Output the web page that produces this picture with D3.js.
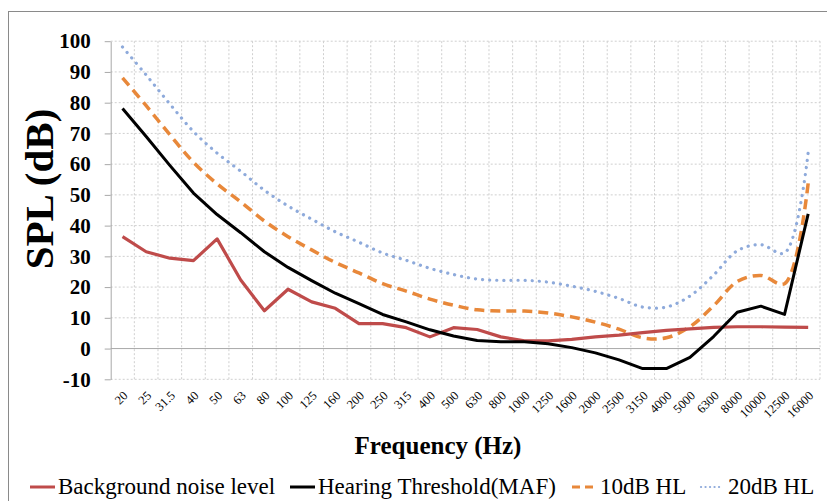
<!DOCTYPE html>
<html>
<head>
<meta charset="utf-8">
<script src="https://cdn.jsdelivr.net/npm/d3@7"></script>
<style>
  html, body { margin: 0; padding: 0; background: #fff; }
  svg { display: block; }
</style>
</head>
<body>
<svg id="chart" width="827" height="501"></svg>
<script>
// Third-octave band centre frequencies (Hz)
const frequencies = ["20","25","31.5","40","50","63","80","100","125","160","200","250","315","400","500","630","800","1000","1250","1600","2000","2500","3150","4000","5000","6300","8000","10000","12500","16000"];

// Sound pressure levels (dB SPL) per band
const backgroundNoise = [36.4,31.5,29.4,28.6,35.7,22.3,12.3,19.3,15.2,13.1,8.1,8.1,6.8,3.8,6.8,6.2,3.8,2.5,2.5,3.0,3.8,4.4,5.2,5.9,6.4,6.9,7.1,7.1,7.0,6.9];
const hearingThreshold = [78.1,69.0,59.6,50.6,43.6,37.7,31.5,26.4,22.1,18.0,14.6,11.1,8.7,6.1,4.1,2.6,2.2,2.2,1.6,0.3,-1.4,-3.7,-6.5,-6.5,-2.9,3.9,11.8,13.8,11.1,43.8];
const hl10 = [88.1,79.0,69.6,60.6,53.6,47.7,41.5,36.4,32.1,28.0,24.6,21.1,18.7,16.1,14.1,12.6,12.2,12.2,11.6,10.3,8.6,6.3,3.5,3.5,7.1,13.9,21.8,23.8,21.1,53.8];
const hl20 = [98.1,89.0,79.6,70.6,63.6,57.7,51.5,46.4,42.1,38.0,34.6,31.1,28.7,26.1,24.1,22.6,22.2,22.2,21.6,20.3,18.6,16.3,13.5,13.5,17.1,23.9,31.8,33.8,31.1,63.8];

const yTicks = [-10,0,10,20,30,40,50,60,70,80,90,100];

const seriesNames = ["Background noise level", "Hearing Threshold(MAF)", "10dB HL", "20dB HL"];

const serif = "'Liberation Serif','Times New Roman',serif";

const svg = d3.select("#chart");

// outer chart frame
svg.append("rect")
  .attr("x", 8.5).attr("y", 11.5)
  .attr("width", 900).attr("height", 600)
  .attr("fill", "#fff").attr("stroke", "#8a8a8a").attr("stroke-width", 1);

const plot = { left: 110.7, right: 820, top: 41.2, bottom: 379.3 };

const x = d3.scaleBand().domain(frequencies).range([plot.left, plot.right]).padding(0);
const y = d3.scaleLinear().domain([-10, 100]).range([plot.bottom, plot.top]);
const cx = f => x(f) + x.bandwidth() / 2;

// vertical gridlines at band boundaries
const bounds = frequencies.map(f => x(f)).concat([plot.right]);
svg.append("g").selectAll("line").data(bounds.slice(1)).join("line")
  .attr("x1", d => d).attr("x2", d => d)
  .attr("y1", plot.top).attr("y2", plot.bottom)
  .attr("stroke", "#cfcfcf").attr("stroke-width", 1).attr("stroke-dasharray", "2,2");

// horizontal gridlines
svg.append("g").selectAll("line").data(yTicks.filter(v => v !== 0)).join("line")
  .attr("x1", plot.left).attr("x2", plot.right)
  .attr("y1", d => y(d)).attr("y2", d => y(d))
  .attr("stroke", "#cfcfcf").attr("stroke-width", 1).attr("stroke-dasharray", "2,2");

// category axis line sits at 0 dB
svg.append("line")
  .attr("x1", plot.left).attr("x2", plot.right)
  .attr("y1", y(0)).attr("y2", y(0))
  .attr("stroke", "#a8a8a8").attr("stroke-width", 1);

// value axis
const yAxis = svg.append("g")
  .attr("transform", `translate(${plot.left},0)`)
  .call(d3.axisLeft(y).tickValues(yTicks).tickFormat(d => String(d))
    .tickSize(6).tickPadding(14).tickSizeOuter(0));
yAxis.select(".domain").attr("stroke", "#a8a8a8");
yAxis.selectAll(".tick line").attr("stroke", "#a8a8a8");
yAxis.selectAll(".tick text")
  .attr("font-family", serif).attr("font-weight", "bold").attr("font-size", 21)
  .attr("fill", "#000");

// frequency tick labels (rotated)
const xAxis = svg.append("g")
  .attr("transform", `translate(0,${plot.bottom})`)
  .call(d3.axisBottom(x).tickSize(0).tickPadding(0));
xAxis.select(".domain").remove();
xAxis.selectAll(".tick text")
  .attr("font-family", serif).attr("font-size", 12.5).attr("fill", "#000")
  .attr("text-anchor", "end")
  .attr("dy", 0)
  .attr("transform", "translate(6,17) rotate(-45)");

// axis titles
svg.append("text")
  .attr("transform", "translate(53,189) rotate(-90)")
  .attr("text-anchor", "middle")
  .attr("font-family", serif).attr("font-weight", "bold").attr("font-size", 41)
  .text("SPL (dB)");

svg.append("text")
  .attr("x", 438).attr("y", 454)
  .attr("text-anchor", "middle")
  .attr("font-family", serif).attr("font-weight", "bold").attr("font-size", 25)
  .text("Frequency (Hz)");

// series
const styles = [
  { values: backgroundNoise, color: "#bf4b4a", width: 3.2, dash: null, cap: "butt", curve: d3.curveLinear },
  { values: hearingThreshold, color: "#000000", width: 3, dash: null, cap: "butt", curve: d3.curveLinear },
  { values: hl10, color: "#e8883a", width: 3.5, dash: "10,6", cap: "butt", curve: d3.curveCatmullRom },
  { values: hl20, color: "#8eaadb", width: 3.2, dash: "0.1,7", cap: "round", curve: d3.curveCatmullRom }
];

const drawOrder = [3, 2, 0, 1];
drawOrder.forEach(i => {
  const s = styles[i];
  const line = d3.line()
    .x((d, j) => cx(frequencies[j]))
    .y(d => y(d))
    .curve(s.curve);
  svg.append("path")
    .datum(s.values)
    .attr("d", line)
    .attr("fill", "none")
    .attr("stroke", s.color)
    .attr("stroke-width", s.width)
    .attr("stroke-linejoin", "round")
    .attr("stroke-linecap", s.cap)
    .attr("stroke-dasharray", s.dash);
});

// legend
const legendItems = [
  { x1: 30, x2: 55, tx: 58 },
  { x1: 290, x2: 315, tx: 318 },
  { x1: 572, x2: 594, tx: 600 },
  { x1: 701, x2: 723, tx: 728 }
];
const legendY = 487;
legendItems.forEach((it, i) => {
  const s = styles[i];
  svg.append("line")
    .attr("x1", it.x1).attr("x2", it.x2)
    .attr("y1", legendY).attr("y2", legendY)
    .attr("stroke", s.color)
    .attr("stroke-width", i === 3 ? 2.2 : 3)
    .attr("stroke-linecap", s.cap)
    .attr("stroke-dasharray", i === 2 ? "8,5" : (i === 3 ? "0.1,4.4" : null));
  svg.append("text")
    .attr("x", it.tx).attr("y", 494)
    .attr("font-family", serif).attr("font-size", 23)
    .attr("fill", "#000")
    .text(seriesNames[i]);
});
</script>
</body>
</html>
